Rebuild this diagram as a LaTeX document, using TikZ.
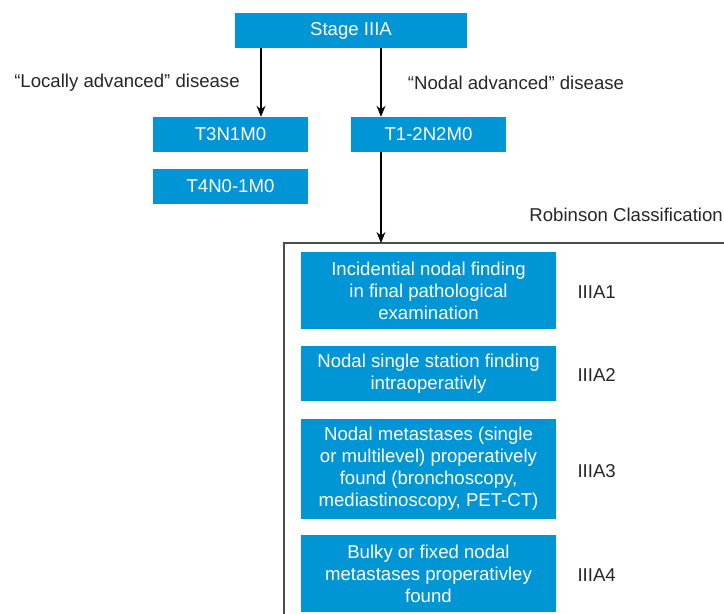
\documentclass[tikz,border=0pt]{standalone}
\usepackage{fontspec}
\setmainfont{Liberation Sans}
\usetikzlibrary{positioning,arrows.meta}
\definecolor{boxblue}{HTML}{0096D6}

\begin{document}
\begin{tikzpicture}[x=1pt,y=-1pt,
    bluebox/.style={fill=boxblue, text=white, inner sep=0pt, align=center,
        font=\fontsize{18.6}{22}\selectfont},
    plain/.style={font=\fontsize{18.6}{22}\selectfont, text=black!85},
    arr/.style={-{Stealth[length=11pt,width=9pt]}, line width=1.1pt}]
    \useasboundingbox (0,0) rectangle (724,614);

    % Stage and T groups
    \node[bluebox, minimum width=232pt, minimum height=35pt] (stage) at (351,30.5) {Stage IIIA};
    \node[bluebox, minimum width=155pt, minimum height=35pt] (t3n1) at (230.5,134.5) {T3N1M0};
    \node[bluebox, minimum width=155pt, minimum height=35pt] (t4n0) at (230.5,186) {T4N0-1M0};
    \node[bluebox, minimum width=155pt, minimum height=35pt] (t12n2) at (428.5,134.5) {T1-2N2M0};

    \node[plain] (locally) at (127,83) {``Locally advanced'' disease};
    \node[plain] (nodal) at (516,83) {``Nodal advanced'' disease};

    \draw[arr] (stage.south -| 261,0) -- (t3n1.north -| 261,0);
    \draw[arr] (stage.south -| 381,0) -- (t12n2.north -| 381,0);

    % Robinson frame
    \node[plain, anchor=east, inner xsep=1pt] (robinson) at (724,215) {Robinson Classification};
    \coordinate (frametop) at (381,243);
    \draw[line width=1.2pt, black!70] (724,243) -- (284,243) -- (284,614);
    \draw[arr] (t12n2.south -| frametop) -- (frametop);

    % classification boxes
    \foreach \name/\cy/\boxh/\txt/\lab in {
        a1/290.5/77/{Incidential nodal finding\\in final pathological\\examination}/IIIA1,
        a2/373.5/55/{Nodal single station finding\\intraoperativly}/IIIA2,
        a3/469/100/{Nodal metastases (single\\or multilevel) properatively\\found (bronchoscopy,\\mediastinoscopy, PET-CT)}/IIIA3,
        a4/573.5/77/{Bulky or fixed nodal\\metastases properativley\\found}/IIIA4} {
        \node[bluebox, minimum width=255pt, minimum height=\boxh pt] (\name) at (428.5,\cy) {\txt};
        \node[plain, anchor=west] (\name lab) at (574,\cy+2) {\lab};
    }
\end{tikzpicture}
\end{document}
